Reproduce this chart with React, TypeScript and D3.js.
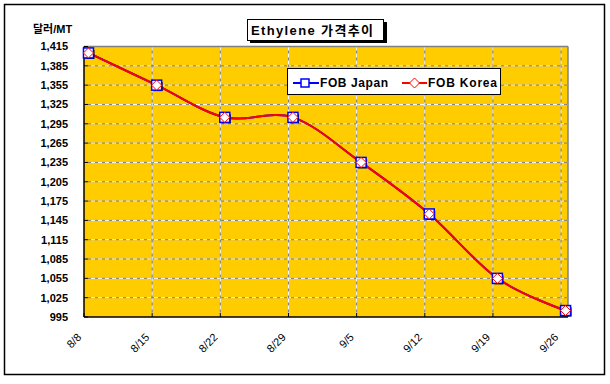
import * as d3 from 'd3';

const dateLabels = ['8/8', '8/15', '8/22', '8/29', '9/5', '9/12', '9/19', '9/26'];
const fobJapan = [1405, 1355, 1305, 1305, 1235, 1155, 1055, 1005];
const fobKorea = [1405, 1355, 1305, 1305, 1235, 1155, 1055, 1005];
const yTicks = [995, 1025, 1055, 1085, 1115, 1145, 1175, 1205, 1235, 1265, 1295, 1325, 1355, 1385, 1415];

const W = 610;
const H = 384;
const plot = { left: 84, right: 568, top: 46.5, bottom: 317 };
const font = '"Liberation Sans", Arial, "Noto Sans CJK KR", sans-serif';

const toDate = (s: string) => {
  const [m, d] = s.split('/').map(Number);
  return new Date(2008, m - 1, d);
};

export default function App() {
  const dates = dateLabels.map(toDate);
  const x = d3
    .scaleTime()
    .domain([dates[0], d3.timeHour.offset(dates[dates.length - 1], 17)])
    .range([plot.left, plot.right]);
  const y = d3.scaleLinear().domain([995, 1415]).range([plot.bottom, plot.top]);

  // points sit in the middle of their day, like an Excel date axis
  const px = (i: number) => x(d3.timeHour.offset(dates[i], 11));

  const line = d3
    .line<number>()
    .x((_, i) => px(i))
    .y((d) => y(d))
    .curve(d3.curveCardinal.tension(0));

  return (
    <svg
      width={W}
      height={H}
      style={{ position: 'absolute', left: 0, top: 0, fontFamily: font }}
    >
      <rect x={0} y={0} width={W} height={H} fill="#fff" />
      <rect x={4.5} y={4.5} width={600} height={370} fill="#fff" stroke="#000" strokeWidth={1.5} />

      {/* plot area */}
      <rect
        x={plot.left}
        y={plot.top}
        width={plot.right - plot.left}
        height={plot.bottom - plot.top}
        fill="#FFCC00"
      />

      {/* horizontal gridlines */}
      {yTicks.slice(1, -1).map((t) => (
        <g key={'h' + t}>
          <line x1={plot.left} x2={plot.right} y1={y(t)} y2={y(t)} stroke="#808080" />
          <line x1={plot.left} x2={plot.right} y1={y(t)} y2={y(t)} stroke="#fff" strokeDasharray="4,3" />
        </g>
      ))}
      {/* vertical gridlines */}
      {dates.slice(1).map((d, i) => (
        <g key={'v' + i}>
          <line x1={x(d)} x2={x(d)} y1={plot.top} y2={plot.bottom} stroke="#808080" />
          <line x1={x(d)} x2={x(d)} y1={plot.top} y2={plot.bottom} stroke="#fff" strokeDasharray="4,3" />
        </g>
      ))}

      {/* border */}
      <line x1={plot.left} x2={plot.right} y1={plot.top} y2={plot.top} stroke="#808080" strokeWidth={1.5} />
      <line x1={plot.right} x2={plot.right} y1={plot.top} y2={plot.bottom} stroke="#808080" strokeWidth={1.5} />
      <line x1={plot.left} x2={plot.left} y1={plot.top} y2={plot.bottom} stroke="#000" strokeWidth={1.5} />
      <line x1={plot.left} x2={plot.right} y1={plot.bottom} y2={plot.bottom} stroke="#000" strokeWidth={1.5} />

      {/* y ticks */}
      {yTicks.map((t) => (
        <g key={'y' + t}>
          <line x1={plot.left} x2={plot.left + 4} y1={y(t)} y2={y(t)} stroke="#000" />
          <text
            x={68}
            y={y(t)}
            dy="0.35em"
            textAnchor="end"
            fontSize={11}
            fontWeight="bold"
          >
            {d3.format(',')(t)}
          </text>
        </g>
      ))}

      {/* x ticks */}
      {dates.map((d, i) => (
        <g key={'x' + i}>
          <line x1={x(d)} x2={x(d)} y1={plot.bottom} y2={plot.bottom - 4} stroke="#000" />
          <text
            transform={`translate(${x(d) - 2},${plot.bottom + 21}) rotate(-45)`}
            textAnchor="end"
            fontSize={11}
          >
            {dateLabels[i]}
          </text>
        </g>
      ))}

      {/* series lines */}
      <path d={line(fobJapan) || ''} fill="none" stroke="#0000FF" strokeWidth={2} />
      <path d={line(fobKorea) || ''} fill="none" stroke="#FF0000" strokeWidth={2} />

      {/* markers */}
      {fobJapan.map((v, i) => (
        <g key={'mj' + i}>
          <rect x={px(i) - 3} y={y(v) - 3} width={9} height={9} fill="#000" />
          <rect x={px(i) - 5} y={y(v) - 5} width={10} height={10} fill="#fff" stroke="#0000FF" strokeWidth={1.5} />
        </g>
      ))}
      {fobKorea.map((v, i) => (
        <path
          key={'mk' + i}
          d={`M${px(i)},${y(v) - 5}L${px(i) + 5},${y(v)}L${px(i)},${y(v) + 5}L${px(i) - 5},${y(v)}Z`}
          fill="#fff"
          stroke="#FF0000"
          strokeWidth={1}
        />
      ))}

      {/* title */}
      <rect x={250} y={22} width={137} height={21} fill="#000" />
      <rect x={247.5} y={19.5} width={136} height={21} fill="#fff" stroke="#000" />
      <text x={251} y={35} fontSize={13} fontWeight="bold" textLength={122} lengthAdjust="spacing">
        Ethylene 가격추이
      </text>

      {/* y unit */}
      <text x={33} y={33} fontSize={11} fontWeight="bold">
        달러/MT
      </text>

      {/* legend */}
      <rect x={287.5} y={68.5} width={213} height={26} fill="#fff" stroke="#000" />
      <line x1={293} x2={319} y1={83} y2={83} stroke="#0000FF" strokeWidth={2} />
      <rect x={301} y={79} width={8} height={8} fill="#fff" stroke="#0000FF" strokeWidth={1.5} />
      <text x={320} y={87} fontSize={12} fontWeight="bold" textLength={68} lengthAdjust="spacing">
        FOB Japan
      </text>
      <line x1={402} x2={427} y1={83} y2={83} stroke="#FF0000" strokeWidth={2} />
      <path d="M414.5,78L419.5,83L414.5,88L409.5,83Z" fill="#fff" stroke="#FF0000" />
      <text x={428} y={87} fontSize={12} fontWeight="bold" textLength={69} lengthAdjust="spacing">
        FOB Korea
      </text>
    </svg>
  );
}
